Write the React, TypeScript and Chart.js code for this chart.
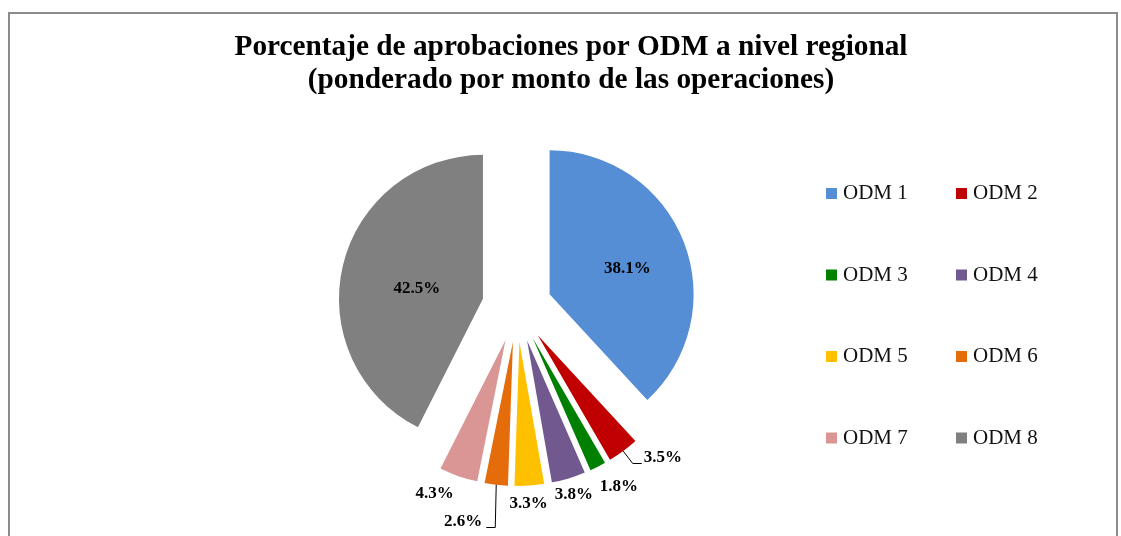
import React, { useEffect, useRef } from 'react';
import { Chart, registerables } from 'chart.js';

Chart.register(...registerables);

// ---- data ----
const CATEGORIES = ['ODM 1', 'ODM 2', 'ODM 3', 'ODM 4', 'ODM 5', 'ODM 6', 'ODM 7', 'ODM 8'];
const SHARES = [38.1, 3.5, 1.8, 3.8, 3.3, 2.6, 4.3, 42.5];
const TITLE_LINES = [
  'Porcentaje de aprobaciones por ODM a nivel regional',
  '(ponderado por monto de las operaciones)',
];

// ---- style ----
const COLORS = ['#558ED5', '#C00000', '#008000', '#71588F', '#FFC000', '#E46C0A', '#D99694', '#808080'];
const FONT = '"Liberation Serif", "Times New Roman", serif';
const EXPLODE = 35; // radial explosion of every slice, px
const RADIUS = 144;
// label nudges (dx, dy) applied after the polar placement rule
const LABEL_NUDGE: [number, number][] = [
  [4, 3], [29, -8], [13, 4], [0, -1], [-2, 0], [-31, 19], [-18, 0], [11, 8],
];

const explodePlugin = {
  id: 'explodeSlices',
  afterDatasetUpdate(chart: any, args: any) {
    args.meta.data.forEach((arc: any) => {
      const mid = (arc.startAngle + arc.endAngle) / 2;
      arc.x += Math.cos(mid) * EXPLODE;
      arc.y += Math.sin(mid) * EXPLODE;
    });
  },
};

const framePlugin = {
  id: 'frameAndTitle',
  beforeDraw(chart: any) {
    const ctx = chart.ctx as CanvasRenderingContext2D;
    ctx.save();
    ctx.strokeStyle = '#8c8c8c';
    ctx.lineWidth = 2;
    ctx.strokeRect(9, 13, 1108, 700);
    ctx.fillStyle = '#000';
    ctx.font = `bold 30px ${FONT}`;
    ctx.textAlign = 'center';
    ctx.textBaseline = 'alphabetic';
    const w1 = ctx.measureText(TITLE_LINES[0]).width;
    const sx = Math.min(1, 673 / w1);
    const baselines = [55, 88];
    TITLE_LINES.forEach((line, i) => {
      ctx.save();
      ctx.translate(571, baselines[i]);
      ctx.scale(sx, 1);
      ctx.fillText(line, 0, 0);
      ctx.restore();
    });
    ctx.restore();
  },
};

const labelPlugin = {
  id: 'sliceLabels',
  afterDatasetsDraw(chart: any) {
    const ctx = chart.ctx as CanvasRenderingContext2D;
    const meta = chart.getDatasetMeta(0);
    const values = chart.data.datasets[0].data as number[];
    ctx.save();
    ctx.font = `bold 17px ${FONT}`;
    ctx.fillStyle = '#000';
    ctx.strokeStyle = '#000';
    ctx.lineWidth = 1;
    ctx.textAlign = 'center';
    ctx.textBaseline = 'middle';
    meta.data.forEach((arc: any, i: number) => {
      const mid = (arc.startAngle + arc.endAngle) / 2;
      const dx = Math.cos(mid);
      const dy = Math.sin(mid);
      const r = arc.outerRadius;
      const inside = values[i] > 10;
      const dist = inside ? r * 0.55 : r + 18;
      const [nx, ny] = LABEL_NUDGE[i] || [0, 0];
      const lx = arc.x + dx * dist + nx;
      const ly = arc.y + dy * dist + ny;
      const text = `${values[i].toFixed(1)}%`;
      const hw = ctx.measureText(text).width / 2;
      if (!inside && Math.hypot(nx, ny) > 20) {
        const ex = arc.x + dx * r;
        const ey = arc.y + dy * r;
        const right = lx > ex;
        const endX = right ? lx - hw - 2 : lx + hw + 4;
        const elbowX = right ? endX - 9 : endX + 9;
        const yy = Math.round(ly + 5) + 0.5;
        ctx.beginPath();
        ctx.moveTo(ex, ey);
        ctx.lineTo(elbowX, yy);
        ctx.lineTo(endX, yy);
        ctx.stroke();
      }
      ctx.fillText(text, lx, ly);
    });
    ctx.restore();
  },
};

const legendPlugin = {
  id: 'gridLegend',
  afterDraw(chart: any) {
    const ctx = chart.ctx as CanvasRenderingContext2D;
    const labels = chart.data.labels as string[];
    const colors = chart.data.datasets[0].backgroundColor as string[];
    const left = 826, top = 188, colW = 130, rowH = 81.5, box = 11;
    ctx.save();
    ctx.font = `21px ${FONT}`;
    ctx.textAlign = 'left';
    ctx.textBaseline = 'alphabetic';
    labels.forEach((lab, i) => {
      const col = i % 2;
      const row = Math.floor(i / 2);
      const x = left + col * colW;
      const y = top + row * rowH;
      ctx.fillStyle = colors[i];
      ctx.fillRect(x, y, box, box);
      ctx.fillStyle = '#111';
      ctx.fillText(lab, x + 17, y + box);
    });
    ctx.restore();
  },
};

export default function App() {
  const ref = useRef<HTMLCanvasElement | null>(null);
  useEffect(() => {
    if (!ref.current) return;
    const chart = new Chart(ref.current, {
      type: 'pie',
      data: {
        labels: CATEGORIES,
        datasets: [
          {
            data: SHARES,
            backgroundColor: COLORS,
            borderWidth: 0,
          },
        ],
      },
      options: {
        responsive: false,
        animation: false,
        radius: RADIUS,
        layout: { padding: { left: 300, right: 387, top: 120, bottom: 42 } },
        plugins: {
          legend: { display: false },
          title: { display: false },
          tooltip: { enabled: false },
        },
      } as any,
      plugins: [framePlugin, explodePlugin, labelPlugin, legendPlugin],
    });
    return () => chart.destroy();
  }, []);
  return (
    <div style={{ position: 'fixed', left: 0, top: 0, width: 1121, height: 536, background: '#fff' }}>
      <canvas ref={ref} width={1121} height={536} style={{ display: 'block' }} />
    </div>
  );
}
